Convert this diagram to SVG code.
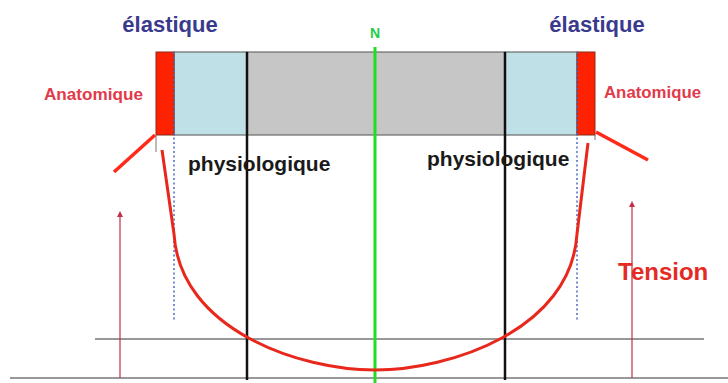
<svg xmlns="http://www.w3.org/2000/svg" width="728" height="383" viewBox="0 0 728 383">
<style>
text{font-family:"Liberation Sans",Arial,sans-serif;font-weight:bold}
.el{fill:#3a3a8c;font-size:22px;text-anchor:middle}
.an{fill:#e23a4a;font-size:16px}
.ph{fill:#1a1a1a;font-size:21px}
.bar{stroke:#6a6a6a;stroke-width:1.2}
.dot{stroke:#4a6cc8;stroke-width:1.5;stroke-dasharray:2 2.5;fill:none}
.blk{stroke:#111;stroke-width:2.5}
.ax{stroke:#333;stroke-width:1.2}
.arr{stroke:#c03048;stroke-width:1.2;fill:none}
</style>
<defs>
<marker id="ah" markerWidth="6" markerHeight="6" refX="3" refY="3" orient="auto" markerUnits="userSpaceOnUse"><path d="M0,6 L3,0 L6,6 Z" fill="#c03048" transform="rotate(90 3 3)"/></marker>
</defs>
<rect width="728" height="383" fill="#fff"/>
<g id="bar">
<rect x="174" y="52" width="73" height="83" fill="#bfe0e6" class="bar"/>
<rect x="247" y="52" width="258" height="83" fill="#c6c6c6" class="bar"/>
<rect x="505" y="52" width="72" height="83" fill="#bfe0e6" class="bar"/>
<rect x="156" y="52" width="18" height="83" fill="#ff2200" stroke="#8a2a1a" stroke-width="1"/>
<rect x="577" y="52" width="18" height="83" fill="#ff2200" stroke="#8a2a1a" stroke-width="1"/>
</g>
<g id="lines">
<line x1="95" y1="339" x2="704" y2="339" class="ax"/>
<line x1="10" y1="378" x2="728" y2="378" class="ax"/>
<line x1="247" y1="52" x2="247" y2="380" class="blk"/>
<line x1="505" y1="52" x2="505" y2="380" class="blk"/>
<line x1="174" y1="52" x2="174" y2="322" class="dot"/>
<line x1="577" y1="52" x2="577" y2="322" class="dot"/>
<line x1="156" y1="135" x2="156" y2="152" stroke="#777" stroke-width="1"/>
<line x1="595" y1="135" x2="595" y2="140" stroke="#777" stroke-width="1"/>
<line x1="375" y1="47" x2="375" y2="383" stroke="#22dd22" stroke-width="3"/>
</g>
<g id="connectors">
<line x1="155" y1="135" x2="114" y2="172" stroke="#ff2a1a" stroke-width="3.5"/>
<line x1="596" y1="132" x2="648" y2="160" stroke="#ff2a1a" stroke-width="3.5"/>
<line x1="120" y1="378" x2="120" y2="214" class="arr" marker-end="url(#ah)"/>
<line x1="632" y1="378" x2="632" y2="204" class="arr" marker-end="url(#ah)"/>
<path d="M162,150 L174,234 C180,330 300,370 375,370 C450,370 571,330 577,234 L588,143" fill="none" stroke="#e8281c" stroke-width="3"/>
</g>
<g id="labels">
<text x="170" y="32" class="el">élastique</text>
<text x="597" y="32" class="el">élastique</text>
<text x="375" y="38" fill="#22cc44" font-size="14" text-anchor="middle">N</text>
<text x="44" y="100" class="an" textLength="99" lengthAdjust="spacingAndGlyphs">Anatomique</text>
<text x="604" y="98" class="an" textLength="97" lengthAdjust="spacingAndGlyphs">Anatomique</text>
<text x="188" y="171" class="ph">physiologique</text>
<text x="427" y="166" class="ph">physiologique</text>
<text x="618" y="280" fill="#e42a22" font-size="24">Tension</text>
</g>
</svg>
